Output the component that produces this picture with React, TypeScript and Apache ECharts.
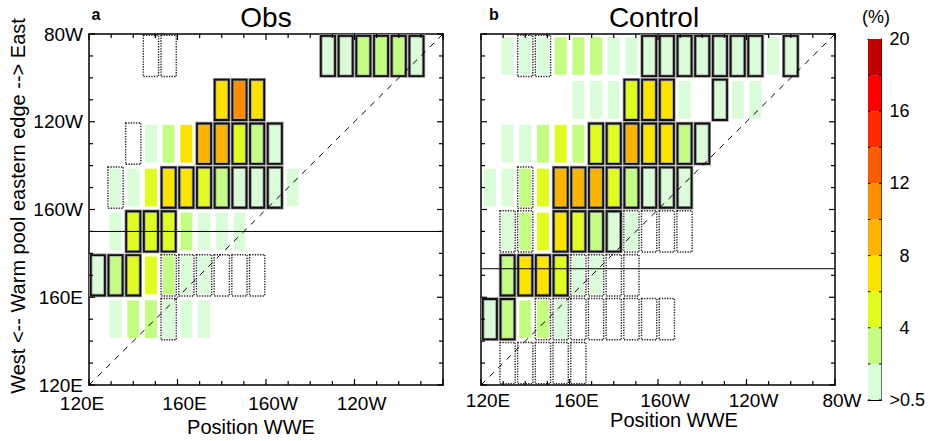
import React, { useEffect, useRef } from 'react';
import * as echarts from 'echarts';

const FONT = '"Liberation Sans", Arial, Helvetica, sans-serif';

// Longitude axis (degrees east) ticks and labels
const LON_TICKS = [120, 160, 200, 240, 280];
const LON_LABELS = ['120E', '160E', '160W', '120W', '80W'];
const LON_MINOR_TICKS = [120, 130, 140, 150, 160, 170, 180, 190, 200, 210, 220, 230, 240, 250, 260, 270, 280];

// Colour levels (%) and colours
const LEVELS = [0.5, 2, 4, 6, 8, 10, 12, 14, 16, 18, 20];
const LEVEL_COLORS = [
  '#dafcd9', '#c4fc84', '#e0fc20', '#fce400', '#fcb400',
  '#fc8c00', '#fc5c00', '#fc2c00', '#fc0000', '#c00000',
];

// Bin sizes (degrees): WWE position bins and warm-pool-edge bins
const BIN_W = 8;
const ROW_H = 20;

// [WWE position (degE), warm pool eastern edge (degE), frequency (%), outline: 0 none, 1 solid, 2 dotted]
const OBS_CELLS: number[][] = [
  [148, 270, 0, 2], [156, 270, 0, 2], [228, 270, 1.2, 1], [236, 270, 1.2, 1], [244, 270, 3, 1], [252, 270, 3, 1], [260, 270, 3, 1], [268, 270, 1.2, 1],
  [180, 250, 7, 1], [188, 250, 11, 1], [196, 250, 7, 1],
  [140, 230, 0, 2], [148, 230, 1.2, 0], [156, 230, 3, 0], [164, 230, 7, 0], [172, 230, 9, 1], [180, 230, 9, 1], [188, 230, 5, 1], [196, 230, 3, 1], [204, 230, 1.2, 1],
  [132, 210, 1.2, 2], [140, 210, 1.2, 0], [148, 210, 5, 0], [156, 210, 7, 1], [164, 210, 7, 1], [172, 210, 5, 1], [180, 210, 3, 1], [188, 210, 1.2, 1], [196, 210, 1.2, 1], [204, 210, 1.2, 1], [212, 210, 1.2, 0],
  [132, 190, 1.2, 0], [140, 190, 5, 1], [148, 190, 5, 1], [156, 190, 5, 1], [164, 190, 3, 0], [172, 190, 1.2, 0], [180, 190, 1.2, 0], [188, 190, 1.2, 0],
  [124, 170, 1.2, 1], [132, 170, 3, 1], [140, 170, 5, 1], [148, 170, 5, 0], [156, 170, 3, 2], [164, 170, 1.2, 2], [172, 170, 1.2, 2], [180, 170, 0, 2], [188, 170, 0, 2], [196, 170, 0, 2],
  [132, 150, 1.2, 0], [140, 150, 3, 0], [148, 150, 3, 0], [156, 150, 1.2, 2], [164, 150, 1.2, 0], [172, 150, 1.2, 0],
];

const CTRL_CELLS: number[][] = [
  [132, 270, 1.2, 0], [140, 270, 1.2, 2], [148, 270, 1.2, 2], [156, 270, 3, 0], [164, 270, 3, 0], [172, 270, 3, 0], [180, 270, 1.2, 0], [188, 270, 1.2, 0], [196, 270, 1.2, 1], [204, 270, 1.2, 1], [212, 270, 1.2, 1], [220, 270, 1.2, 1], [228, 270, 1.2, 1], [236, 270, 1.2, 1], [244, 270, 1.2, 1], [252, 270, 1.2, 0], [260, 270, 1.2, 1],
  [164, 250, 1.2, 0], [172, 250, 1.2, 0], [180, 250, 1.2, 0], [188, 250, 5, 1], [196, 250, 7, 1], [204, 250, 7, 1], [212, 250, 1.2, 0], [228, 250, 1.2, 1], [236, 250, 1.2, 0], [244, 250, 1.2, 0],
  [132, 230, 1.2, 0], [140, 230, 1.2, 0], [148, 230, 3, 0], [156, 230, 5, 0], [164, 230, 3, 0], [172, 230, 5, 1], [180, 230, 5, 1], [188, 230, 9, 1], [196, 230, 7, 1], [204, 230, 7, 1], [212, 230, 3, 1], [220, 230, 1.2, 1],
  [124, 210, 1.2, 0], [132, 210, 1.2, 0], [140, 210, 3, 2], [148, 210, 5, 0], [156, 210, 9, 1], [164, 210, 9, 1], [172, 210, 9, 1], [180, 210, 5, 1], [188, 210, 3, 1], [196, 210, 1.2, 1], [204, 210, 1.2, 1], [212, 210, 1.2, 1],
  [132, 190, 1.2, 2], [140, 190, 3, 2], [148, 190, 5, 0], [156, 190, 7, 1], [164, 190, 5, 1], [172, 190, 3, 1], [180, 190, 1.2, 1], [188, 190, 1.2, 2], [196, 190, 0, 2], [204, 190, 0, 2], [212, 190, 0, 2],
  [132, 170, 3, 1], [140, 170, 7, 1], [148, 170, 7, 1], [156, 170, 5, 1], [164, 170, 1.2, 2], [172, 170, 1.2, 2], [180, 170, 0, 2], [188, 170, 0, 2],
  [124, 150, 1.2, 1], [132, 150, 3, 1], [140, 150, 3, 0], [148, 150, 3, 2], [156, 150, 1.2, 2], [164, 150, 0, 2], [172, 150, 0, 2], [180, 150, 0, 2], [188, 150, 0, 2], [196, 150, 0, 2], [204, 150, 0, 2],
  [132, 130, 0, 2], [140, 130, 0, 2], [148, 130, 0, 2], [156, 130, 0, 2], [164, 130, 0, 2],
];

// Mean warm pool eastern edge (degE)
const OBS_MEAN_EDGE = 190;
const CTRL_MEAN_EDGE = 173;

const LON_MIN = LON_TICKS[0];
const LON_MAX = LON_TICKS[LON_TICKS.length - 1];

const lonLabel = (v: number) => {
  const i = LON_TICKS.indexOf(v);
  return i >= 0 ? LON_LABELS[i] : '';
};

const colorOf = (v: number): string | null => {
  if (v < LEVELS[0]) return null;
  for (let i = 0; i < LEVEL_COLORS.length; i++) {
    if (v < LEVELS[i + 1]) return LEVEL_COLORS[i];
  }
  return LEVEL_COLORS[LEVEL_COLORS.length - 1];
};

const renderCell = (_params: any, api: any) => {
  const x = api.value(0);
  const y = api.value(1);
  const v = api.value(2);
  const s = api.value(3);
  const c = api.coord([x, y]);
  const sz = api.size([BIN_W, ROW_H]);
  const children: any[] = [];
  const col = colorOf(v);
  if (col) {
    children.push({
      type: 'rect',
      shape: { x: c[0] - sz[0] * 0.34, y: c[1] - sz[1] * 0.43, width: sz[0] * 0.68, height: sz[1] * 0.86 },
      style: { fill: col },
    });
  }
  if (s === 1) {
    const w = sz[0] * 0.8;
    const h = sz[1] * 0.92;
    const shape = { x: c[0] - w / 2, y: c[1] - h / 2, width: w, height: h };
    children.push({ type: 'rect', shape, style: { fill: 'none', stroke: '#9a9a9a', lineWidth: 3.4 } });
    children.push({ type: 'rect', shape, style: { fill: 'none', stroke: '#111', lineWidth: 1.8 } });
  } else if (s === 2) {
    const w = sz[0] * 0.86;
    const h = sz[1] * 0.94;
    children.push({
      type: 'rect',
      shape: { x: c[0] - w / 2, y: c[1] - h / 2, width: w, height: h },
      style: { fill: 'none', stroke: '#222', lineWidth: 1.4, lineDash: [1.3, 1.3] },
    });
  }
  return { type: 'group', children };
};

// Inside ticks on all four frame edges, placed through the axis scales
const renderTicks = (_params: any, api: any) => {
  const v = api.value(0);
  const len = LON_TICKS.indexOf(v) >= 0 ? 6 : 4;
  const b = api.coord([v, LON_MIN]);
  const t = api.coord([v, LON_MAX]);
  const l = api.coord([LON_MIN, v]);
  const r = api.coord([LON_MAX, v]);
  const f = { fill: '#000' };
  const w = 1.2;
  return {
    type: 'group',
    children: [
      { type: 'rect', shape: { x: b[0] - w / 2, y: b[1] - len, width: w, height: len }, style: f },
      { type: 'rect', shape: { x: t[0] - w / 2, y: t[1], width: w, height: len }, style: f },
      { type: 'rect', shape: { x: l[0], y: l[1] - w / 2, width: len, height: w }, style: f },
      { type: 'rect', shape: { x: r[0] - len, y: r[1] - w / 2, width: len, height: w }, style: f },
    ],
  };
};

const renderBar = (_params: any, api: any) => {
  const lo = api.value(0);
  const hi = api.value(1);
  const p0 = api.coord([0, lo]);
  const p1 = api.coord([1, hi]);
  return {
    type: 'group',
    children: [
      {
        type: 'rect',
        shape: { x: p0[0], y: p1[1], width: p1[0] - p0[0], height: p0[1] - p1[1] },
        style: { fill: LEVEL_COLORS[api.value(2)] },
      },
      { type: 'rect', shape: { x: p0[0], y: p0[1] - 0.5, width: 2.5, height: 1 }, style: { fill: '#000' } },
      { type: 'rect', shape: { x: p1[0] - 2.5, y: p0[1] - 0.5, width: 2.5, height: 1 }, style: { fill: '#000' } },
    ],
  };
};

const lonAxis = (gridIndex: number, position: string, labels: any) => ({
  type: 'value',
  gridIndex,
  position,
  min: LON_MIN,
  max: LON_MAX,
  interval: 40,
  axisLine: { show: true, onZero: false, lineStyle: { color: '#000', width: 1.5 } },
  axisTick: { show: false },
  splitLine: { show: false },
  axisLabel: labels || { show: false },
});

const richR = { padding: [0, 0, 0, 14], fontSize: 19, fontFamily: FONT, color: '#000' };
const richL = { padding: [0, 14, 0, 0], fontSize: 19, fontFamily: FONT, color: '#000' };

const cbAxis = (position: string, labels: any) => ({
  type: 'value', gridIndex: 2, position, min: 0, max: LEVELS.length - 1, interval: 1,
  axisLine: { show: true, onZero: false, lineStyle: { color: '#000', width: 1 } },
  axisTick: { show: false },
  splitLine: { show: false },
  axisLabel: labels || { show: false },
});

const tickSeries = (axisIndex: number) => ({
  type: 'custom', xAxisIndex: axisIndex, yAxisIndex: axisIndex, renderItem: renderTicks, silent: true, z: 6, clip: false,
  data: LON_MINOR_TICKS.map((v) => [v, LON_MIN]),
});

const option: any = {
  animation: false,
  backgroundColor: '#fff',
  textStyle: { fontFamily: FONT, color: '#000' },
  grid: [
    { left: 89, top: 34, width: 354, height: 351 },
    { left: 481, top: 34, width: 354, height: 351 },
    { left: 868, top: 39, width: 14, height: 361 },
  ],
  xAxis: [
    lonAxis(0, 'bottom', {
      show: true, margin: 9, fontSize: 19, fontFamily: FONT, color: '#000',
      formatter: (v: number) => {
        const t = lonLabel(v);
        if (!t || v === LON_MAX) return '';
        return v === LON_MIN ? '{l|' + t + '}' : '{r|' + t + '}';
      },
      rich: { r: richR, l: richL },
    }),
    lonAxis(0, 'top', null),
    lonAxis(1, 'bottom', {
      show: true, margin: 6, fontSize: 19, fontFamily: FONT, color: '#000',
      formatter: (v: number) => {
        const t = lonLabel(v);
        return t ? '{r|' + t + '}' : '';
      },
      rich: { r: richR },
    }),
    lonAxis(1, 'top', null),
    {
      type: 'value', gridIndex: 2, min: 0, max: 1, position: 'bottom',
      axisLine: { show: true, onZero: false, lineStyle: { color: '#000', width: 1 } },
      axisTick: { show: false }, axisLabel: { show: false }, splitLine: { show: false },
    },
    {
      type: 'value', gridIndex: 2, min: 0, max: 1, position: 'top',
      axisLine: { show: true, onZero: false, lineStyle: { color: '#000', width: 1 } },
      axisTick: { show: false }, axisLabel: { show: false }, splitLine: { show: false },
    },
  ],
  yAxis: [
    lonAxis(0, 'left', {
      show: true, margin: 6, fontSize: 19, fontFamily: FONT, color: '#000',
      formatter: (v: number) => lonLabel(v),
    }),
    lonAxis(0, 'right', null),
    lonAxis(1, 'left', null),
    lonAxis(1, 'right', null),
    cbAxis('right', {
      show: true, margin: 8, align: 'left', fontSize: 18, fontFamily: FONT, color: '#000',
      formatter: (v: number) => {
        if (v % 2 !== 0) return '';
        if (v === 0) return '>' + LEVELS[0];
        const t = String(LEVELS[v]);
        return t.length === 1 ? '{s|' + t + '}' : t;
      },
      rich: { s: { padding: [0, 0, 0, 10], fontSize: 18, fontFamily: FONT, color: '#000' } },
    }),
    cbAxis('left', null),
  ],
  series: [
    { type: 'custom', xAxisIndex: 0, yAxisIndex: 0, renderItem: renderCell, data: OBS_CELLS, z: 2, silent: true },
    {
      type: 'line', xAxisIndex: 0, yAxisIndex: 0, data: [[LON_MIN, LON_MIN], [LON_MAX, LON_MAX]], symbol: 'none', z: 5, silent: true,
      lineStyle: { color: '#000', width: 1, type: [6, 6] },
    },
    {
      type: 'line', xAxisIndex: 0, yAxisIndex: 0, data: [[LON_MIN, OBS_MEAN_EDGE], [LON_MAX, OBS_MEAN_EDGE]], symbol: 'none', z: 5, silent: true,
      lineStyle: { color: '#000', width: 1 },
    },
    tickSeries(0),
    { type: 'custom', xAxisIndex: 2, yAxisIndex: 2, renderItem: renderCell, data: CTRL_CELLS, z: 2, silent: true },
    {
      type: 'line', xAxisIndex: 2, yAxisIndex: 2, data: [[LON_MIN, LON_MIN], [LON_MAX, LON_MAX]], symbol: 'none', z: 5, silent: true,
      lineStyle: { color: '#000', width: 1, type: [6, 6] },
    },
    {
      type: 'line', xAxisIndex: 2, yAxisIndex: 2, data: [[LON_MIN, CTRL_MEAN_EDGE], [LON_MAX, CTRL_MEAN_EDGE]], symbol: 'none', z: 5, silent: true,
      lineStyle: { color: '#000', width: 1 },
    },
    tickSeries(2),
    {
      type: 'custom', xAxisIndex: 4, yAxisIndex: 4, renderItem: renderBar, silent: true, z: 1,
      data: LEVEL_COLORS.map((_c, i) => [i, i + 1, i]),
    },
  ],
  graphic: [
    { type: 'text', x: 266, y: 17, style: { text: 'Obs', fontSize: 28, fontFamily: FONT, fill: '#000', align: 'center', verticalAlign: 'middle' } },
    { type: 'text', x: 654, y: 17, style: { text: 'Control', fontSize: 28, fontFamily: FONT, fill: '#000', align: 'center', verticalAlign: 'middle' } },
    { type: 'text', x: 96, y: 14, style: { text: 'a', fontSize: 16, fontWeight: 'bold', fontFamily: FONT, fill: '#000', align: 'center', verticalAlign: 'middle' } },
    { type: 'text', x: 494, y: 14, style: { text: 'b', fontSize: 16, fontWeight: 'bold', fontFamily: FONT, fill: '#000', align: 'center', verticalAlign: 'middle' } },
    { type: 'text', x: 251, y: 427, style: { text: 'Position WWE', fontSize: 20, fontFamily: FONT, fill: '#000', align: 'center', verticalAlign: 'middle' } },
    { type: 'text', x: 674, y: 420, style: { text: 'Position WWE', fontSize: 20, fontFamily: FONT, fill: '#000', align: 'center', verticalAlign: 'middle' } },
    { type: 'text', x: 18, y: 206, rotation: Math.PI / 2, style: { text: 'West <-- Warm pool eastern edge --> East', fontSize: 20, fontFamily: FONT, fill: '#000', align: 'center', verticalAlign: 'middle' } },
    { type: 'text', x: 876, y: 17, style: { text: '(%)', fontSize: 18, fontFamily: FONT, fill: '#000', align: 'center', verticalAlign: 'middle' } },
  ],
};

export default function App() {
  const ref = useRef<HTMLDivElement>(null);
  useEffect(() => {
    if (!ref.current) return;
    const chart = echarts.init(ref.current, null, { renderer: 'svg' });
    chart.setOption(option);
    return () => chart.dispose();
  }, []);
  return (
    <div
      ref={ref}
      style={{ position: 'absolute', left: 0, top: 0, width: 928, height: 441, background: '#fff' }}
    />
  );
}
